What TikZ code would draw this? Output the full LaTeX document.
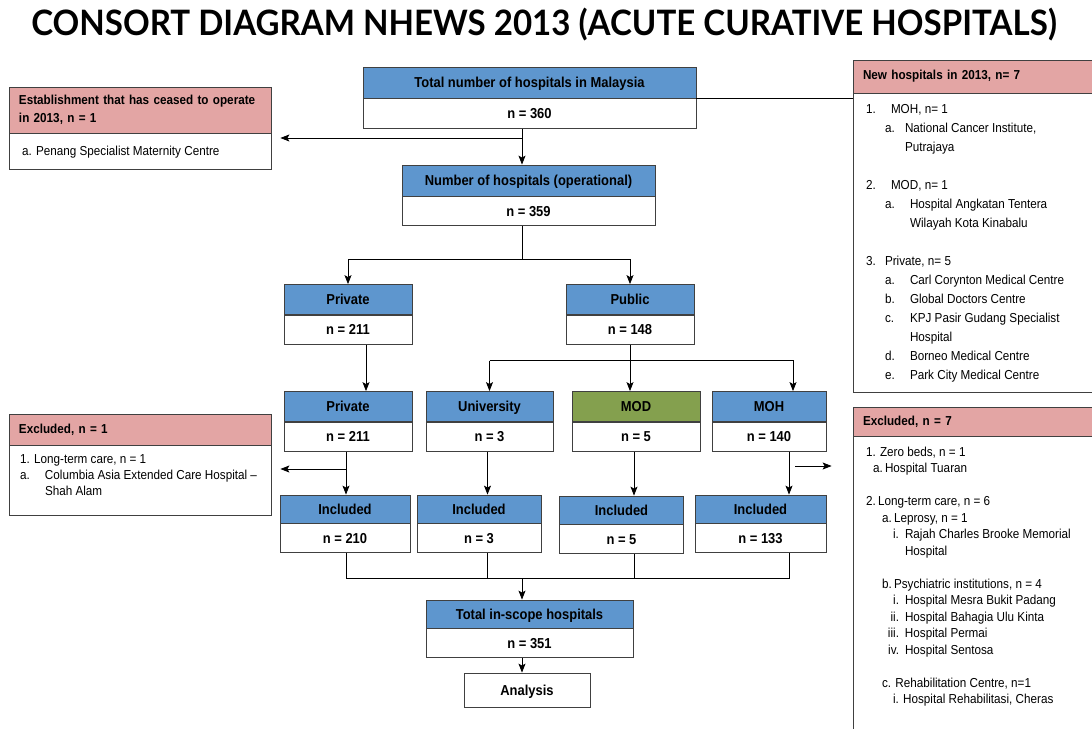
\documentclass[tikz,border=0pt]{standalone}
\usepackage{fontspec}
\setmainfont{Liberation Sans}[FakeStretch=0.9]
\newfontfamily\titlefont{Lato}[FakeStretch=0.945]
\usetikzlibrary{arrows.meta,positioning}

\definecolor{headblue}{RGB}{94,150,206}
\definecolor{headgreen}{RGB}{132,160,78}
\definecolor{headpink}{RGB}{227,165,164}
\definecolor{linegray}{RGB}{64,64,64}

\newcommand{\lbl}[2]{\makebox[#1][l]{#2}}

\begin{document}
\begin{tikzpicture}[x=1pt, y=-1pt, >={Stealth[length=9pt,width=7pt,inset=2pt]}, line width=0.8pt,
                    font=\fontsize{13}{15}\selectfont]
    \tikzstyle{head} = [rectangle, draw=linegray, fill=headblue, font=\fontsize{14.4}{16}\selectfont\bfseries,
                        minimum height=30pt, inner sep=0pt, text height=10pt, text depth=0pt]
    \tikzstyle{body} = [rectangle, draw=linegray, fill=white, font=\fontsize{14.4}{16}\selectfont\bfseries,
                        minimum height=29pt, inner sep=0pt, text height=10pt, text depth=0pt]
    \tikzstyle{sidehead} = [rectangle, draw=linegray, fill=headpink, align=left,
                            font=\fontsize{13}{18}\selectfont\bfseries, inner xsep=10pt, inner ysep=0pt]
    \tikzstyle{sidebody} = [rectangle, draw=linegray, fill=white, inner sep=0pt]
    \tikzstyle{list} = [anchor=north west, align=left, inner sep=0pt]

    \useasboundingbox (0,0) rectangle (1092,728);
    \clip (0,0) rectangle (1092,728);
    \fill[white] (0,0) rectangle (1092,728);

    \node (title) at (544,25) {\titlefont\fontsize{35}{39}\selectfont\bfseries
      CONSORT DIAGRAM NHEWS 2013 (ACUTE CURATIVE HOSPITALS)};

    % main flow
    \node (totalh) [head, minimum width=333pt, minimum height=31pt] at (529.5,82.5)
      {Total number of hospitals in Malaysia};
    \node (totaln) [body, minimum width=333pt, minimum height=30pt, below=0pt of totalh] {n = 360};
    \node (operh)  [head, minimum width=253pt, minimum height=31pt] at (528.5,180.5)
      {Number of hospitals (operational)};
    \node (opern)  [body, minimum width=253pt, below=0pt of operh] {n = 359};

    \node (priv3h) [head, minimum width=128pt] at (348,299.5) {Private};
    \node (priv3n) [body, minimum width=128pt, below=0pt of priv3h] {n = 211};
    \node (pubh)   [head, minimum width=128pt] at (630,299.5) {Public};
    \node (pubn)   [body, minimum width=128pt, below=0pt of pubh] {n = 148};

    \node (priv4h) [head, minimum width=128pt] at (348,406.5) {Private};
    \node (priv4n) [body, minimum width=128pt, below=0pt of priv4h] {n = 211};
    \node (univh)  [head, minimum width=127pt] at (489.5,406.5) {University};
    \node (univn)  [body, minimum width=127pt, below=0pt of univh] {n = 3};
    \node (modh)   [head, fill=headgreen, minimum width=128pt] at (636,406.5) {MOD};
    \node (modn)   [body, minimum width=128pt, below=0pt of modh] {n = 5};
    \node (mohh)   [head, minimum width=114pt] at (769,406.5) {MOH};
    \node (mohn)   [body, minimum width=114pt, below=0pt of mohh] {n = 140};

    \node (inprivh) [head, minimum width=130pt, minimum height=28pt] at (345,509) {Included};
    \node (inprivn) [body, minimum width=130pt, below=0pt of inprivh] {n = 210};
    \node (inunivh) [head, minimum width=124pt, minimum height=28pt] at (479,509) {Included};
    \node (inunivn) [body, minimum width=124pt, below=0pt of inunivh] {n = 3};
    \node (inmodh)  [head, minimum width=124pt, minimum height=28pt] at (621.5,510) {Included};
    \node (inmodn)  [body, minimum width=124pt, below=0pt of inmodh] {n = 5};
    \node (inmohh)  [head, minimum width=131pt, minimum height=28pt] at (760.5,509) {Included};
    \node (inmohn)  [body, minimum width=131pt, below=0pt of inmohh] {n = 133};

    \node (scopeh) [head, minimum width=207pt, minimum height=28pt] at (529.5,614) {Total in-scope hospitals};
    \node (scopen) [body, minimum width=207pt, below=0pt of scopeh] {n = 351};
    \node (analysis) [body, minimum width=126pt, minimum height=34pt] at (527,690) {Analysis};

    % side boxes
    \node (ceasedh) [sidehead, text width=242pt, minimum height=46pt] at (140,110)
      {Establishment that has ceased to operate\\in 2013, n = 1};
    \node (ceasedb) [sidebody, minimum width=262pt, minimum height=36pt, below=0pt of ceasedh] {};
    \node (ceasedl) [list, anchor=west] at ([xshift=13pt]ceasedb.west)
      {a. Penang Specialist Maternity Centre};

    \node (exprivh) [sidehead, text width=242pt, minimum height=31pt] at (140,429.5) {Excluded, n = 1};
    \node (exprivb) [sidebody, minimum width=262pt, minimum height=70pt, below=0pt of exprivh] {};
    \node (exprivl) [list, font=\fontsize{13}{16}\selectfont] at ([shift={(11,9)}]exprivb.north west)
      {1. Long-term care, n = 1\\
       \lbl{25pt}{a.}Columbia Asia Extended Care Hospital --\\
       \hspace*{25pt}Shah Alam};

    \node (newh) [sidehead, text width=222pt, minimum height=33pt] at (974,76.5) {New hospitals in 2013, n= 7};
    \node (newb) [sidebody, minimum width=242pt, minimum height=299pt, below=0pt of newh] {};
    \node (newl) [list, font=\fontsize{13}{19}\selectfont] at ([shift={(13,11)}]newb.north west)
      {\lbl{25pt}{1.}MOH, n= 1\\
       \hspace*{19pt}\lbl{20pt}{a.}National Cancer Institute,\\
       \hspace*{39pt}Putrajaya\\[19pt]
       \lbl{25pt}{2.}MOD, n= 1\\
       \hspace*{19pt}\lbl{25pt}{a.}Hospital Angkatan Tentera\\
       \hspace*{44pt}Wilayah Kota Kinabalu\\[19pt]
       \lbl{19pt}{3.}Private, n= 5\\
       \hspace*{19pt}\lbl{25pt}{a.}Carl Corynton Medical Centre\\
       \hspace*{19pt}\lbl{25pt}{b.}Global Doctors Centre\\
       \hspace*{19pt}\lbl{25pt}{c.}KPJ Pasir Gudang Specialist\\
       \hspace*{44pt}Hospital\\
       \hspace*{19pt}\lbl{25pt}{d.}Borneo Medical Centre\\
       \hspace*{19pt}\lbl{25pt}{e.}Park City Medical Centre};

    \node (expubh) [sidehead, text width=222pt, minimum height=29pt] at (974,421.5) {Excluded, n = 7};
    \node (expubb) [sidebody, minimum width=242pt, minimum height=300pt, below=0pt of expubh] {};
    \node (expubl) [list, font=\fontsize{13}{16.5}\selectfont] at ([shift={(13,10)}]expubb.north west)
      {\lbl{14pt}{1.}Zero beds, n = 1\\
       \hspace*{7pt}\lbl{12pt}{a.}Hospital Tuaran\\[16.5pt]
       \lbl{12pt}{2.}Long-term care, n = 6\\
       \hspace*{16pt}\lbl{12pt}{a.}Leprosy, n = 1\\
       \hspace*{27pt}\lbl{12pt}{i.}Rajah Charles Brooke Memorial\\
       \hspace*{39pt}Hospital\\[16.5pt]
       \hspace*{16pt}\lbl{12pt}{b.}Psychiatric institutions, n = 4\\
       \hspace*{19pt}\makebox[14pt][r]{i.}\hspace*{6pt}Hospital Mesra Bukit Padang\\
       \hspace*{19pt}\makebox[14pt][r]{ii.}\hspace*{6pt}Hospital Bahagia Ulu Kinta\\
       \hspace*{19pt}\makebox[14pt][r]{iii.}\hspace*{6pt}Hospital Permai\\
       \hspace*{19pt}\makebox[14pt][r]{iv.}\hspace*{6pt}Hospital Sentosa\\[16.5pt]
       \hspace*{16pt}c. Rehabilitation Centre, n=1\\
       \hspace*{27pt}i. Hospital Rehabilitasi, Cheras};

    % connectors
    \coordinate (spine) at (522,0);
    \coordinate (ceasedfork) at (522,138);
    \coordinate (privfork) at (346,469);
    \coordinate (mohfork) at (789,466);
    \coordinate (join) at (522,578);

    \draw [->] (totaln.south -| spine) -- (operh.north -| spine);
    \draw [->] (ceasedfork) -- ([xshift=9pt]ceasedfork -| ceasedb.east);
    \draw (totalh.south east) -- (totalh.south east -| newb.west);

    \draw (opern.south -| spine) -- ++(0,33) coordinate (opfork);
    \draw [->] (opfork -| priv3h.north) -- (priv3h.north);
    \draw [->] (opfork -| priv3h.north) -- (opfork -| pubh.north) -- (pubh.north);

    \draw [->] ([xshift=18pt]priv3n.south) -- ([xshift=18pt]priv4h.north);
    \draw (pubn.south) -- ++(0,16) coordinate (pubfork);
    \draw [->] (pubfork -| univh.north) -- (univh.north);
    \draw [->] (pubfork -| univh.north) -- ([xshift=24pt]pubfork -| mohh.north) -- ([xshift=24pt]mohh.north);
    \draw [->] (pubfork) -- (pubfork |- modh.north);

    \draw [->] ([xshift=-2pt]priv4n.south) -- (privfork |- inprivh.north);
    \draw [->] (privfork) -- ([xshift=9pt]privfork -| exprivb.east);
    \draw [->] ([xshift=-2pt]univn.south) -- ([xshift=-2pt]univn.south |- inunivh.north);
    \draw [->] ([xshift=-2pt]modn.south) -- ([xshift=-2pt]modn.south |- inmodh.north);
    \draw [->] ([xshift=20pt]mohn.south) -- ([xshift=20pt]mohn.south |- inmohh.north);
    \draw [->] ([xshift=6pt]mohfork) -- ([xshift=-21pt]mohfork -| expubb.west);

    \draw (privfork |- inprivn.south) |- (join);
    \draw ([xshift=-2pt]univn.south |- inunivn.south) -- ([xshift=-2pt]univn.south |- join);
    \draw ([xshift=-2pt]modn.south |- inmodn.south) -- ([xshift=-2pt]modn.south |- join);
    \draw ([xshift=20pt]mohn.south |- inmohn.south) |- (join);
    \draw [->] (join) -- (scopeh.north -| join);
    \draw [->] (scopen.south -| join) -- (analysis.north -| join);
\end{tikzpicture}
\end{document}
